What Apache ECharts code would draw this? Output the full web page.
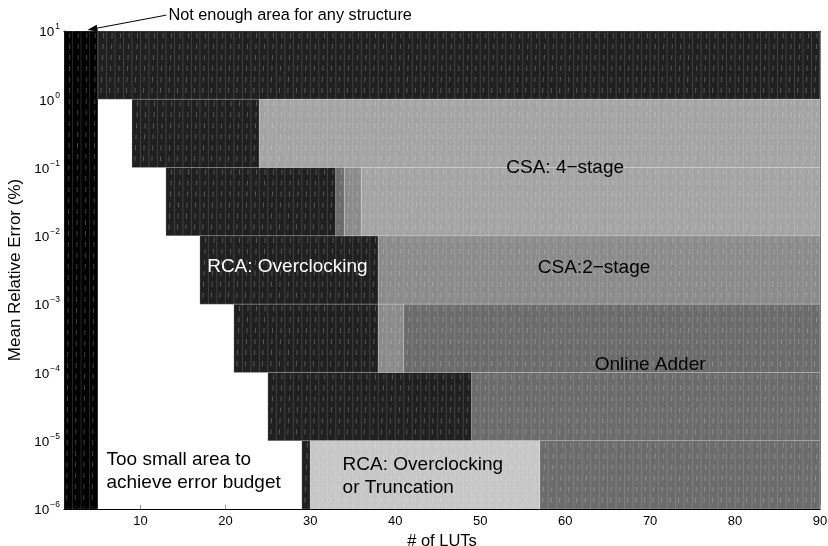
<!DOCTYPE html>
<html>
<head>
<meta charset="utf-8">
<script src="https://cdn.jsdelivr.net/npm/echarts@6/dist/echarts.min.js"></script>
<style>html,body{margin:0;padding:0;background:#fff}#c{width:828px;height:546px}</style>
</head>
<body>
<div id="c"></div>
<script>
// ---- data (x0, x1 in # of LUTs; yLow, yHigh in % error) ----
const xTickValues = [10, 20, 30, 40, 50, 60, 70, 80, 90];
const yTickValues = [1e-6, 1e-5, 1e-4, 1e-3, 1e-2, 1e-1, 1, 10];
const noAreaRegions = [[1, 5, 1e-6, 10]];
const rcaOverclockRegions = [
  [5, 90, 1, 10], [9, 24, 0.1, 1], [13, 33, 0.01, 0.1], [17, 38, 1e-3, 1e-2],
  [21, 38, 1e-4, 1e-3], [25, 49, 1e-5, 1e-4], [29, 30, 1e-6, 1e-5]
];
const csa4Regions = [[24, 90, 0.1, 1], [36, 90, 0.01, 0.1]];
const csa2Regions = [[34, 36, 0.01, 0.1], [38, 90, 1e-3, 1e-2], [38, 41, 1e-4, 1e-3]];
const onlineRegions = [[33, 34, 0.01, 0.1], [41, 90, 1e-4, 1e-3], [49, 90, 1e-5, 1e-4], [57, 90, 1e-6, 1e-5]];
const rcaTruncRegions = [[30, 57, 1e-6, 1e-5]];

const labelTexts = ['CSA: 4\u2212stage', 'CSA:2\u2212stage', 'RCA: Overclocking', 'Online Adder',
  'Too small area to\nachieve error budget', 'RCA: Overclocking\nor Truncation'];
const labelX = [60, 63.4, 27.3, 70, 6, 33.8];
const labelY = [0.1, 3.39e-3, 3.47e-3, 1.29e-4, 3.55e-6, 3.05e-6];
const labelColors = ['#000', '#000', '#fff', '#000', '#000', '#000'];
const labelAlign = ['center', 'center', 'center', 'center', 'left', 'left'];

const noteText = 'Not enough area for any structure';
const noteFrom = [13.06, 17.1];
const noteTo = [3.76, 10.35];

const FONT = '"Liberation Sans", Arial, Helvetica, sans-serif';

function regionRender(params, api) {
  const x0 = api.value(0), x1 = api.value(1), y0 = api.value(2), y1 = api.value(3);
  const tl = api.coord([x0, y1]), br = api.coord([x1, y0]);
  const fill = api.visual('color');
  const children = [{
    type: 'rect', shape: { x: tl[0], y: tl[1], width: br[0] - tl[0], height: br[1] - tl[1] },
    style: { fill: fill, stroke: 'rgba(255,255,255,0.18)', lineWidth: 1 }
  }];
  for (let i = x0; i < x1; i++) {
    const a = api.coord([i, y1]), b = api.coord([i + 1, y0]);
    children.push({
      type: 'line', shape: { x1: b[0], y1: a[1], x2: b[0], y2: b[1] },
      style: { stroke: 'rgba(255,255,255,0.15)', lineWidth: 1 }
    });
    const cx = (a[0] + b[0]) / 2;
    children.push({
      type: 'line', shape: { x1: cx + 1.5, y1: a[1] + 2, x2: cx - 1.5, y2: b[1] - 2 },
      style: { stroke: 'rgba(255,255,255,0.25)', lineWidth: 1, lineDash: [5, 6] }
    });
  }
  return { type: 'group', children: children };
}

function regionSeries(name, data, color) {
  return {
    type: 'custom', name: name, renderItem: regionRender, clip: true,
    itemStyle: { color: color }, encode: { x: [0, 1], y: [2, 3] }, data: data, silent: true
  };
}

const labelData = labelTexts.map((t, i) => [labelX[i], labelY[i], i]);

const chart = echarts.init(document.getElementById('c'), null, { renderer: 'canvas' });
chart.setOption({
  backgroundColor: '#fff',
  animation: false,
  textStyle: { fontFamily: FONT },
  grid: { left: 64, right: 8, top: 31, bottom: 37, containLabel: false, outerBoundsMode: 'none' },
  xAxis: [{
    type: 'value', min: 1, max: 90, name: '# of LUTs', nameLocation: 'middle', nameGap: 21,
    nameTextStyle: { fontSize: 16.5, color: '#000', fontFamily: FONT },
    axisLine: { show: true, lineStyle: { color: '#000', width: 1 } },
    axisTick: { show: true, inside: true, length: 4, customValues: xTickValues, lineStyle: { color: '#999' } },
    axisLabel: { customValues: xTickValues, fontSize: 13, color: '#000', margin: 6, fontFamily: FONT },
    splitLine: { show: false }
  }, {
    type: 'value', min: 1, max: 90, position: 'top',
    axisLine: { show: true, lineStyle: { color: '#000', width: 1 } },
    axisTick: { show: false }, axisLabel: { show: false }, splitLine: { show: false }
  }],
  yAxis: [{
    type: 'log', logBase: 10, min: 1e-6, max: 10,
    name: 'Mean Relative Error (%)', nameLocation: 'middle', nameGap: 32,
    nameTextStyle: { fontSize: 17, color: '#000', fontFamily: FONT },
    axisLine: { show: true, lineStyle: { color: '#000' } },
    axisTick: { show: false },
    axisLabel: {
      customValues: yTickValues, margin: 4, fontFamily: FONT,
      formatter: function (v) {
        const e = Math.round(Math.log10(v));
        return '{b|10}{s|' + (e < 0 ? '\u2212' + (-e) : e) + '}';
      },
      rich: {
        b: { fontSize: 13.5, color: '#000', fontFamily: FONT, padding: [3, 0, 0, 0] },
        s: { fontSize: 8.5, color: '#000', fontFamily: FONT, padding: [0, 0, 8, 1] }
      }
    },
    splitLine: { show: false }
  }, {
    type: 'log', logBase: 10, min: 1e-6, max: 10, position: 'right',
    axisLine: { show: true, lineStyle: { color: '#777' } },
    axisTick: { show: false }, axisLabel: { show: false }, splitLine: { show: false }
  }],
  series: [
    regionSeries('No area', noAreaRegions, '#000000'),
    regionSeries('RCA: Overclocking', rcaOverclockRegions, '#202020'),
    regionSeries('CSA: 4-stage', csa4Regions, '#a4a4a4'),
    regionSeries('CSA: 2-stage', csa2Regions, '#8b8b8b'),
    regionSeries('Online Adder', onlineRegions, '#6b6b6b'),
    regionSeries('RCA: Truncation', rcaTruncRegions, '#c7c7c7'),
    {
      type: 'custom', name: 'labels', clip: false, silent: true, z: 10,
      encode: { x: 0, y: 1 }, data: labelData,
      renderItem: function (params, api) {
        const p = api.coord([api.value(0), api.value(1)]);
        const i = api.value(2);
        return {
          type: 'text', x: p[0], y: p[1],
          style: {
            text: labelTexts[i], fill: labelColors[i], align: labelAlign[i], verticalAlign: 'middle',
            fontSize: 19, lineHeight: 23, fontFamily: FONT
          }
        };
      }
    },
    {
      type: 'custom', name: 'note', clip: false, silent: true, z: 10,
      encode: { x: 0, y: 1 }, data: [[noteFrom[0], noteFrom[1], noteTo[0], noteTo[1]]],
      renderItem: function (params, api) {
        const a = api.coord([api.value(0), api.value(1)]);
        const b = api.coord([api.value(2), api.value(3)]);
        const dx = b[0] - a[0], dy = b[1] - a[1], L = Math.sqrt(dx * dx + dy * dy);
        const ux = dx / L, uy = dy / L, hl = 10, hw = 3.5;
        const base = [b[0] - ux * hl, b[1] - uy * hl];
        return {
          type: 'group', children: [
            { type: 'line', shape: { x1: a[0], y1: a[1], x2: base[0], y2: base[1] }, style: { stroke: '#000', lineWidth: 1 } },
            { type: 'polygon', shape: { points: [b, [base[0] - uy * hw, base[1] + ux * hw], [base[0] + uy * hw, base[1] - ux * hw]] }, style: { fill: '#000' } },
            { type: 'text', x: a[0] + 2, y: a[1], style: { text: noteText, fill: '#000', fontSize: 16.3, verticalAlign: 'middle', fontFamily: FONT } }
          ]
        };
      }
    }
  ]
});
</script>
</body>
</html>
